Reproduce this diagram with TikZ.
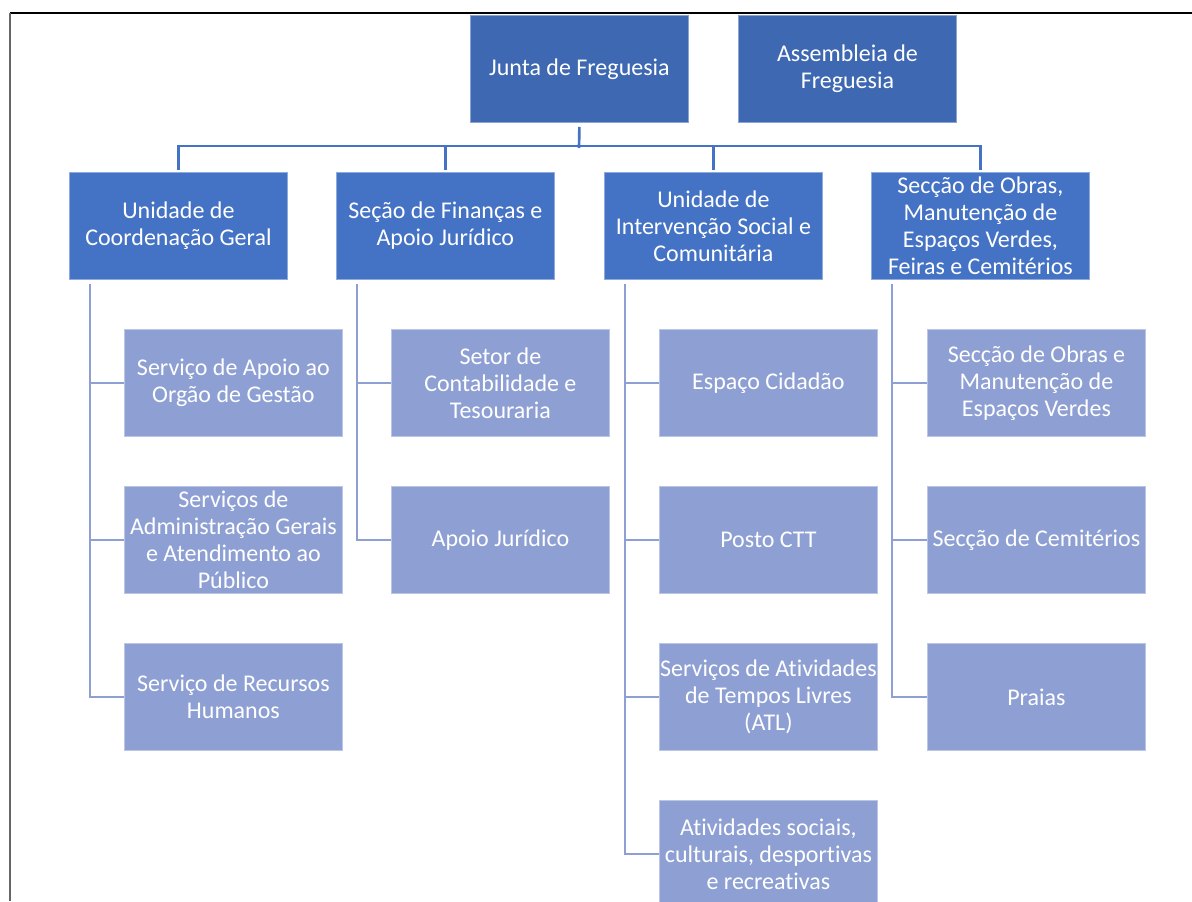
\documentclass[tikz,border=0pt]{standalone}
\usepackage{fontspec}
\setmainfont{Carlito}[Ligatures=NoCommon]
\definecolor{topblue}{HTML}{3E68B1}
\definecolor{midblue}{HTML}{4472C4}
\definecolor{lightblue}{HTML}{8EA0D3}
\begin{document}
\begin{tikzpicture}[x=0.75pt,y=-0.75pt,
  box/.style={minimum width=163.5pt, minimum height=80.25pt, inner sep=0pt, text=white,
    align=center, font=\fontsize{18}{20.25}\selectfont, anchor=north west, line width=0.6pt},
  topbox/.style={box, fill=topblue, draw=topblue!60!white},
  midbox/.style={box, fill=midblue, draw=midblue!60!white},
  lowbox/.style={box, fill=lightblue, draw=lightblue!60!white},
  conn/.style={draw=midblue, line width=2pt},
  lconn/.style={draw=lightblue, line width=1.6pt}]
\useasboundingbox (0,0) rectangle (1192,901);
\draw[black, line width=1pt] (10,13) -- (1192,13);
\draw[gray!80!black, line width=1.5pt] (10,13) -- (10,901);

\node[topbox] (junta) at (470,15) {Junta de Freguesia};
\node[topbox] (assemb) at (738,15) {Assembleia de\\Freguesia};

\node[midbox] (u1) at (69,172) {Unidade de\\Coordenação Geral};
\node[midbox] (u2) at (336,172) {Seção de Finanças e\\Apoio Jurídico};
\node[midbox] (u3) at (604,172) {Unidade de\\Intervenção Social e\\Comunitária};
\node[midbox] (u4) at (871,172) {Secção de Obras,\\Manutenção de\\Espaços Verdes,\\Feiras e Cemitérios};

\node[lowbox] (s11) at (124,329) {Serviço de Apoio ao\\Orgão de Gestão};
\node[lowbox] (s12) at (124,486) {Serviços de\\Administração Gerais\\e Atendimento ao\\Público};
\node[lowbox] (s13) at (124,643) {Serviço de Recursos\\Humanos};

\node[lowbox] (s21) at (391,329) {Setor de\\Contabilidade e\\Tesouraria};
\node[lowbox] (s22) at (391,486) {Apoio Jurídico};

\node[lowbox] (s31) at (659,329) {Espaço Cidadão};
\node[lowbox] (s32) at (659,486) {Posto CTT};
\node[lowbox] (s33) at (659,643) {Serviços de Atividades\\de Tempos Livres\\(ATL)};
\node[lowbox] (s34) at (659,800) {Atividades sociais,\\culturais, desportivas\\e recreativas};

\node[lowbox] (s41) at (927,329) {Secção de Obras e\\Manutenção de\\Espaços Verdes};
\node[lowbox] (s42) at (927,486) {Secção de Cemitérios};
\node[lowbox] (s43) at (927,643) {Praias};

% top-level connectors
\coordinate (bus) at (579,148);
\draw[conn] ([yshift=-3pt]junta.south) -- (bus);
\draw[conn] ([yshift=1.5pt]u1.north) -- ++(0,-24) -| ([yshift=1.5pt]u4.north);
\draw[conn] ([yshift=1.5pt]u2.north) -- ++(0,-24);
\draw[conn] ([yshift=1.5pt]u3.north) -- ++(0,-24);

% branch connectors
\foreach \u/\last in {u1/s13, u2/s22, u3/s34, u4/s43}{
  \coordinate (\u-t) at ([xshift=15.75pt,yshift=-3pt]\u.south west);
  \draw[lconn] (\u-t) |- (\last.west);
}
\foreach \u/\s in {u1/s11, u1/s12, u2/s21, u3/s31, u3/s32, u3/s33, u4/s41, u4/s42}{
  \draw[lconn] (\s.west) -- (\s.west -| \u-t);
}
\end{tikzpicture}
\end{document}
